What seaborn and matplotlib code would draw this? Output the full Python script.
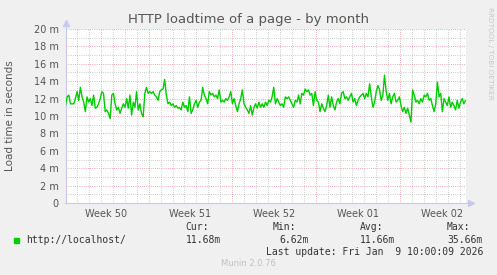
import numpy as np
import pandas as pd
import matplotlib
matplotlib.use("Agg")
import matplotlib.pyplot as plt
from matplotlib.patches import Rectangle
from matplotlib.lines import Line2D
import seaborn as sns

# ---------------- data ----------------
title = "HTTP loadtime of a page - by month"
ylabel = "Load time in seconds"
series_name = "http://localhost/"
loadtime_ms = [
    11.2, 12.2, 12.4, 11.4, 11.4, 11.4, 12.0, 12.8, 11.8, 13.3, 12.2, 11.6, 10.5, 12.2, 11.6,
    12.0, 11.2, 12.4, 10.9, 11.0, 11.4, 12.0, 12.8, 12.6, 10.5, 10.7, 10.3, 9.7, 12.4, 12.6,
    11.4, 10.7, 11.0, 10.3, 10.9, 11.4, 11.0, 12.0, 10.9, 12.4, 10.1, 11.6, 11.0, 12.8, 10.7,
    11.4, 10.3, 9.9, 12.6, 13.3, 12.6, 12.8, 12.6, 12.8, 12.4, 12.2, 11.8, 12.8, 13.0, 13.1,
    14.2, 12.4, 11.4, 11.6, 11.2, 11.4, 11.0, 11.2, 10.9, 11.0, 10.7, 11.6, 11.0, 11.2, 10.5,
    12.2, 10.3, 10.7, 11.4, 11.8, 11.0, 11.6, 11.8, 13.3, 12.4, 12.0, 11.4, 12.8, 12.4, 12.6,
    12.2, 12.4, 12.0, 13.0, 11.6, 11.8, 11.6, 12.0, 11.8, 12.2, 12.8, 11.4, 12.0, 11.2, 10.5,
    11.4, 12.0, 13.0, 11.4, 11.0, 10.7, 10.3, 11.2, 10.1, 11.0, 11.4, 10.9, 11.6, 11.0, 11.4,
    11.0,
    11.6, 11.2, 11.8, 11.6, 12.2, 13.3, 11.4, 12.0, 11.6, 11.2, 11.4, 11.0, 12.2, 12.0, 12.2,
    11.8, 11.4, 11.0, 11.8, 11.6, 12.4, 11.4, 12.6, 12.4, 13.1, 12.8, 13.0, 12.4, 12.6, 11.2,
    12.8, 11.8, 11.6, 10.5, 11.4, 10.9, 10.5, 11.2, 12.4, 11.0, 12.2, 11.2, 10.7, 11.6, 12.0,
    11.4, 12.6, 12.8, 12.0, 12.2, 11.8, 12.2, 12.6, 11.6, 12.0, 11.2, 11.8, 12.2, 12.4, 12.6,
    12.0,
    12.6, 12.2, 13.7, 12.2, 11.0, 11.6, 12.8, 13.5, 13.0, 11.8, 12.4, 14.7, 12.8, 11.8, 12.6,
    11.4, 12.2, 12.6, 11.6, 11.8, 12.2, 11.2, 10.5, 11.0, 10.3, 10.9, 10.1, 9.3, 13.0, 12.4,
    11.6, 11.8, 11.4, 12.0, 11.6, 12.4, 12.2, 12.6, 11.8, 12.0, 11.2, 10.5, 11.4, 13.9, 12.2,
    12.6, 10.5, 12.0, 11.6, 11.2, 12.2, 11.0, 11.6, 11.2, 10.7, 11.8, 10.9, 11.6, 12.0, 11.4,
    11.8,
]
stat_headers = ["Cur:", "Min:", "Avg:", "Max:"]
stat_values = ["11.68m", "6.62m", "11.66m", "35.66m"]
last_update = "Last update: Fri Jan  9 10:00:09 2026"
end_time = pd.Timestamp("2026-01-09 10:00")
start_time = pd.Timestamp("2025-12-07 02:00")
week_labels = ["Week 50", "Week 51", "Week 52", "Week 01", "Week 02"]
week_centers = pd.to_datetime(["2025-12-10 12:00", "2025-12-17 12:00", "2025-12-24 12:00",
                               "2025-12-31 12:00", "2026-01-07 12:00"])

# ---------------- figure ----------------
W, H = 497, 275
sns.set_style("white")
plt.rcParams["font.family"] = ["DejaVu Sans"]
fig = plt.figure(figsize=(W / 100, H / 100), dpi=100, facecolor="#F0F0F0")

L, R, T, B = 65.5, 465.5, 29, 203
ax = fig.add_axes([L / W, 1 - B / H, (R - L) / W, (B - T) / H])
ax.set_facecolor("white")

times = pd.date_range(start_time, end_time, periods=len(loadtime_ms))
df = pd.DataFrame({"time": times, "value": loadtime_ms})

ax.set_xlim(start_time, end_time)
ax.set_ylim(0, 20)

grid_gray = "#BDBDBD"
grid_red = "#E89494"
dots = (0, (0.72, 1.44))
glw = 0.72

# y grid
for v in range(1, 21):
    col = grid_red if v % 2 == 0 else grid_gray
    ax.axhline(v, color=col, lw=glw, ls=dots, zorder=1)
# x grid
days = pd.date_range("2025-12-08", "2026-01-09", freq="D")
for d in days:
    col = grid_red if d.dayofweek == 6 else grid_gray
    ax.axvline(d, color=col, lw=glw, ls=dots, zorder=1)

sns.lineplot(data=df, x="time", y="value", ax=ax, color="#00CC00", lw=1.0, zorder=3)

ax.set_yticks(np.arange(0, 21, 2))
ax.set_yticklabels(["0" if v == 0 else f"{v} m" for v in range(0, 21, 2)])
ax.set_xticks(week_centers)
ax.set_xticklabels(week_labels)
ax.tick_params(axis="y", length=3, width=0.6, color=grid_red, pad=2,
               labelsize=7, labelcolor="#555555")
ax.tick_params(axis="x", length=0, pad=4, labelsize=7, labelcolor="#555555")
ax.set_xlabel("")
ax.set_ylabel("")

for s in ["top", "right"]:
    ax.spines[s].set_visible(False)
for s in ["left", "bottom"]:
    ax.spines[s].set_color("#C8C8F0")
    ax.spines[s].set_linewidth(0.8)

# axis arrows
axcol = "#C8C8F0"
fig.add_artist(Line2D([L / W, L / W], [1 - T / H, 1 - 22 / H], color=axcol, lw=0.8))
fig.add_artist(Line2D([R / W, 470 / W], [1 - B / H, 1 - B / H], color=axcol, lw=0.8))
fig.add_artist(Line2D([L / W], [1 - 23 / H], marker="^", ms=4, color=axcol, lw=0))
fig.add_artist(Line2D([471 / W], [1 - B / H], marker=">", ms=4, color=axcol, lw=0))

def ftext(x, y, s, **kw):
    fig.text(x / W, 1 - y / H, s, **kw)

ftext(248, 19, title, ha="center", va="center", fontsize=9.5, color="#555555")
ftext(10, 116, ylabel, ha="center", va="center", rotation=90, fontsize=7.5, color="#555555")
ftext(490, 53, "RRDTOOL / TOBI OETIKER", ha="center", va="center", rotation=270,
      fontsize=5.2, color="#C8C8C8")

mono = dict(family="DejaVu Sans Mono", fontsize=7, color="#333333", va="center")
header_x = [185.5, 272.5, 360, 446.5]
value_right = [221.5, 308.5, 395.5, 483]
for hx, h in zip(header_x, stat_headers):
    ftext(hx, 227.5, h, ha="left", **mono)
for vx, v in zip(value_right, stat_values):
    ftext(vx, 240, v, ha="right", **mono)
ftext(26, 240, series_name, ha="left", **mono)
ftext(483, 252, last_update, ha="right", **mono)
fig.add_artist(Rectangle((14 / W, 1 - 243 / H), 5 / W, 5 / H, color="#00CC00",
                         transform=fig.transFigure))
ftext(248, 264, "Munin 2.0.76", ha="center", va="center", fontsize=6, color="#C0C0C0")

fig.savefig("out.png", dpi=100, facecolor=fig.get_facecolor())
